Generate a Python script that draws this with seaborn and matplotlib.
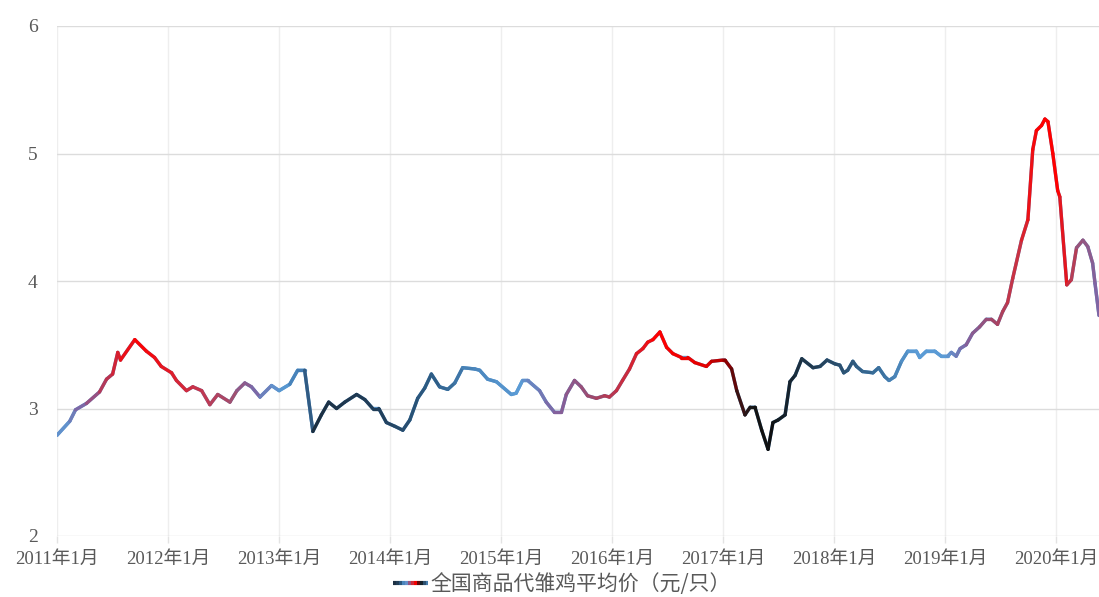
import numpy as np
import pandas as pd
import matplotlib
matplotlib.use("Agg")
import matplotlib.pyplot as plt
import matplotlib.dates as mdates
from matplotlib.collections import LineCollection
from matplotlib.colors import LinearSegmentedColormap, to_rgb
from matplotlib.legend_handler import HandlerBase
from matplotlib.lines import Line2D
import seaborn as sns

# ---------------- data ----------------
dates = [
    "2011-01-01", "2011-02-12", "2011-03-03", "2011-04-08", "2011-05-21", "2011-06-13",
    "2011-07-03", "2011-07-20", "2011-07-29", "2011-09-14", "2011-10-22", "2011-11-18",
    "2011-12-10", "2012-01-13", "2012-01-29", "2012-03-02", "2012-03-23", "2012-04-21",
    "2012-05-18", "2012-06-13", "2012-07-23", "2012-08-15", "2012-09-10", "2012-10-02",
    "2012-10-30", "2012-12-07", "2013-01-01", "2013-02-05", "2013-03-03", "2013-03-26",
    "2013-04-22", "2013-05-20", "2013-06-13", "2013-07-09", "2013-08-05", "2013-09-13",
    "2013-10-10", "2013-11-05", "2013-11-25", "2013-12-20", "2014-01-17", "2014-02-12",
    "2014-03-07", "2014-04-02", "2014-04-25", "2014-05-17", "2014-06-13", "2014-07-10",
    "2014-08-02", "2014-08-28", "2014-10-07", "2014-10-23", "2014-11-18", "2014-12-17",
    "2015-02-04", "2015-02-20", "2015-03-13", "2015-03-30", "2015-05-08", "2015-05-30",
    "2015-06-26", "2015-07-19", "2015-08-04", "2015-08-31", "2015-09-22", "2015-10-13",
    "2015-11-11", "2015-12-08", "2015-12-24", "2016-01-16", "2016-02-05", "2016-02-28",
    "2016-03-22", "2016-04-12", "2016-04-28", "2016-05-15", "2016-06-07", "2016-06-29",
    "2016-07-20", "2016-08-17", "2016-09-07", "2016-09-30", "2016-11-07", "2016-11-24",
    "2017-01-01", "2017-01-07", "2017-01-29", "2017-02-15", "2017-03-14", "2017-03-31",
    "2017-04-16", "2017-05-08", "2017-05-29", "2017-06-14", "2017-07-01", "2017-07-24",
    "2017-08-09", "2017-08-26", "2017-09-17", "2017-10-24", "2017-11-16", "2017-12-09",
    "2018-01-04", "2018-01-20", "2018-02-02", "2018-02-15", "2018-03-04", "2018-03-16",
    "2018-04-05", "2018-05-09", "2018-05-28", "2018-06-17", "2018-07-01", "2018-07-20",
    "2018-08-11", "2018-09-01", "2018-09-29", "2018-10-10", "2018-11-01", "2018-11-28",
    "2018-12-20", "2019-01-10", "2019-01-22", "2019-02-07", "2019-02-20", "2019-03-12",
    "2019-04-02", "2019-04-25", "2019-05-17", "2019-06-03", "2019-06-23", "2019-07-10",
    "2019-07-26", "2019-08-12", "2019-09-10", "2019-10-01", "2019-10-17", "2019-10-29",
    "2019-11-15", "2019-11-26", "2019-12-06", "2019-12-22", "2020-01-07", "2020-01-14",
    "2020-02-06", "2020-02-21", "2020-03-09", "2020-03-30", "2020-04-15", "2020-05-01",
    "2020-05-09", "2020-05-22",
]
prices = [
    2.79, 2.90, 2.99, 3.04, 3.13, 3.23,
    3.27, 3.44, 3.38, 3.54, 3.45, 3.40,
    3.33, 3.28, 3.22, 3.14, 3.17, 3.14,
    3.03, 3.11, 3.05, 3.14, 3.20, 3.17,
    3.09, 3.18, 3.14, 3.19, 3.30, 3.30,
    2.82, 2.95, 3.05, 3.00, 3.05, 3.11,
    3.07, 3.00, 3.00, 2.89, 2.86, 2.83,
    2.91, 3.08, 3.16, 3.27, 3.17, 3.15,
    3.20, 3.32, 3.31, 3.30, 3.23, 3.21,
    3.11, 3.12, 3.22, 3.22, 3.14, 3.05,
    2.97, 2.97, 3.11, 3.22, 3.17, 3.10,
    3.08, 3.10, 3.09, 3.14, 3.22, 3.31,
    3.43, 3.47, 3.52, 3.54, 3.60, 3.48,
    3.43, 3.40, 3.40, 3.36, 3.33, 3.37,
    3.38, 3.38, 3.31, 3.14, 2.95, 3.01,
    3.01, 2.83, 2.68, 2.89, 2.91, 2.95,
    3.21, 3.26, 3.39, 3.32, 3.33, 3.38,
    3.35, 3.34, 3.28, 3.30, 3.37, 3.33,
    3.29, 3.28, 3.32, 3.25, 3.22, 3.25,
    3.37, 3.45, 3.45, 3.40, 3.45, 3.45,
    3.41, 3.41, 3.44, 3.41, 3.47, 3.50,
    3.59, 3.64, 3.70, 3.70, 3.66, 3.76,
    3.83, 4.02, 4.32, 4.48, 5.03, 5.18,
    5.22, 5.27, 5.25, 5.00, 4.71, 4.66,
    3.97, 4.01, 4.26, 4.32, 4.27, 4.14,
    3.98, 3.73,
]
series_name = "全国商品代雏鸡平均价（元/只）"
year_ticks = list(range(2011, 2021))
tick_labels = [f"{y}年1月" for y in year_ticks]
y_ticks = [2, 3, 4, 5, 6]

# colour stops of the gradient along time
stop_dates = [
    "2011-01-01", "2011-03-15", "2011-06-15", "2011-09-15", "2012-04-01", "2012-08-01",
    "2012-10-01", "2013-01-01", "2013-03-20", "2013-04-20", "2013-12-01", "2014-06-01",
    "2014-10-01", "2015-03-01", "2015-07-01", "2015-11-01", "2016-03-01", "2016-06-01",
    "2016-12-01", "2017-01-20", "2017-04-01", "2017-06-01", "2017-10-01", "2018-06-01",
    "2018-10-01", "2019-01-15", "2019-03-15", "2019-06-15", "2019-09-01", "2019-11-15",
    "2020-01-20", "2020-03-15", "2020-05-22",
]
stop_colors = [
    "#5b9bd5", "#8064a2", "#c0304a", "#ff0000", "#c8334a", "#a05070",
    "#8064a2", "#5b9bd5", "#3d75aa", "#1c2e40", "#22405c", "#2f5f88",
    "#4a85bb", "#5b9bd5", "#8064a2", "#a0486a", "#d02838", "#ff0000",
    "#e00000", "#800000", "#1a1a1a", "#0d0d0d", "#1f3548", "#3a6e9a",
    "#5b9bd5", "#5b9bd5", "#8064a2", "#a0486a", "#cc3040", "#ff0000",
    "#ff0000", "#a05070", "#8064a2",
]

# ---------------- figure ----------------
sns.set_theme(style="white")
plt.rcParams["font.family"] = ["Liberation Serif", "Noto Sans CJK SC", "DejaVu Sans"]

df = pd.DataFrame({"date": pd.to_datetime(dates), "price": prices})

fig = plt.figure(figsize=(10.99, 5.97), dpi=100)
ax = fig.add_axes([57 / 1099, 1 - 536 / 597, 1 - 57 / 1099, (536 - 26) / 597])

line_w = 2.4
sns.lineplot(data=df, x="date", y="price", ax=ax, color="#5b9bd5", linewidth=line_w,
             legend=False, zorder=2)

# gradient colouring
xnum = mdates.date2num(df["date"])
snum = mdates.date2num(pd.to_datetime(stop_dates))
pos = (snum - snum[0]) / (snum[-1] - snum[0])
cmap = LinearSegmentedColormap.from_list("grad", list(zip(pos, [to_rgb(c) for c in stop_colors])))
pts = np.column_stack([xnum, df["price"].values])
segs = np.stack([pts[:-1], pts[1:]], axis=1)
mids = (xnum[:-1] + xnum[1:]) / 2
seg_cols = cmap(np.clip((mids - snum[0]) / (snum[-1] - snum[0]), 0, 1))
lc = LineCollection(segs, colors=seg_cols, linewidths=line_w, capstyle="round",
                    joinstyle="round", zorder=3)
ax.add_collection(lc)

ax.set_xlim(mdates.date2num(pd.Timestamp("2011-01-01")), mdates.date2num(pd.Timestamp("2020-05-22")))
ax.set_ylim(2, 6)
ax.set_yticks(y_ticks)
ax.set_yticklabels([str(v) for v in y_ticks])
ax.set_xticks(mdates.date2num(pd.to_datetime([f"{y}-01-01" for y in year_ticks])))
ax.set_xticklabels(tick_labels)
ax.set_xlabel("")
ax.set_ylabel("")

for s in ax.spines.values():
    s.set_visible(False)
ax.grid(axis="y", color="#dcdcdc", linewidth=1.0, zorder=0)
ax.grid(axis="x", color="#eeeeee", linewidth=1.0, zorder=0)
ax.set_axisbelow(True)
ax.tick_params(axis="y", length=0, pad=14, labelsize=14, labelcolor="#595959")
ax.tick_params(axis="x", length=5, width=1, color="#e3e3e3", pad=6, labelsize=13.5,
               labelcolor="#595959", bottom=True, direction="out")


class GradHandler(HandlerBase):
    def create_artists(self, legend, orig_handle, xdescent, ydescent, width, height,
                       fontsize, trans):
        n = 12
        xs = np.linspace(-xdescent, -xdescent + width, n + 1)
        y = height / 2 - ydescent
        cols = [cmap(v) for v in np.linspace(0.25, 0.8, n)]
        arts = []
        for i in range(n):
            l = Line2D([xs[i], xs[i + 1]], [y, y], color=cols[i], linewidth=3,
                       solid_capstyle="butt", transform=trans)
            arts.append(l)
        return arts


leg = fig.legend([lc], [series_name], handler_map={LineCollection: GradHandler()},
                 loc="center", bbox_to_anchor=(562 / 1099, 1 - 584 / 597),
                 frameon=False, handlelength=1.7, handletextpad=0.1, borderpad=0.1,
                 prop={"family": ["Noto Sans CJK SC", "DejaVu Sans"], "size": 15,
                       "weight": "light"})
for t in leg.get_texts():
    t.set_color("#595959")

fig.savefig("out.png", dpi=100)
